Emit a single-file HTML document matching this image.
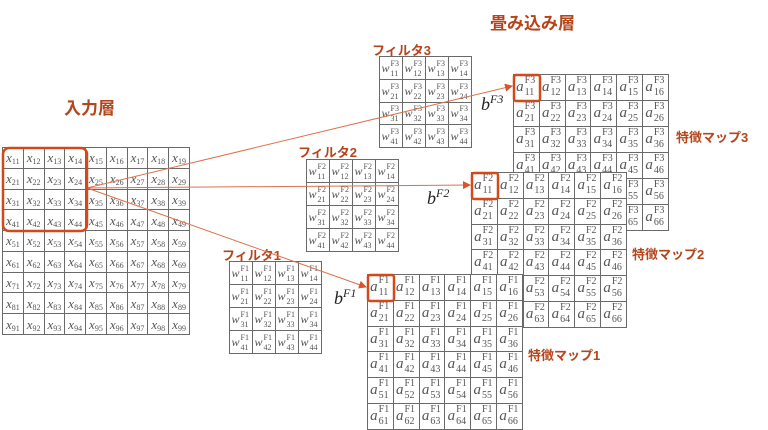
<!DOCTYPE html>
<html><head><meta charset="utf-8"><style>
body{margin:0;width:768px;height:429px;background:#fff;position:relative;overflow:hidden;font-family:"Liberation Serif",serif}
table{position:absolute;border-collapse:collapse;table-layout:fixed;background:#fff}
td{border:1px solid #6a6a6a;text-align:center;vertical-align:middle;padding:0;color:#555;font-style:italic;white-space:nowrap;line-height:1;overflow:hidden}
.x td{font-size:13px;height:19px}
.x sub{font-size:8px;font-style:normal;vertical-align:-2px;line-height:0}
.s{display:inline-block;position:relative;width:11px;height:8px;font-style:normal;vertical-align:0;text-align:left}
.s span{position:absolute;left:1px;font-size:8px;line-height:8px}
.s span:first-child{top:-4px}
.s span:last-child{top:6px}
.w td{font-size:12px;height:21px}
.a td{font-size:15px;height:24px}
.a .s{width:13px;height:10px}
.a .s span{font-size:10px;line-height:10px}
.a .s span:first-child{top:-5px}
.a .s span:last-child{top:7px}
.lab{position:absolute;color:#b5451b;font-family:"Liberation Sans","Noto Sans CJK JP",sans-serif;font-weight:bold;white-space:nowrap}
.b{position:absolute;font-family:"Liberation Serif",serif;font-style:italic;font-size:18px;color:#222}
.b sup{font-size:12px;font-style:italic}
</style></head><body>

<div class="lab" style="left:64px;top:94px;font-size:17px">入力層</div>
<div class="lab" style="left:490px;top:9px;font-size:17px">畳み込み層</div>
<div class="lab" style="left:372px;top:40px;font-size:13px">フィルタ3</div>
<div class="lab" style="left:298px;top:142px;font-size:13px">フィルタ2</div>
<div class="lab" style="left:222px;top:245px;font-size:13px">フィルタ1</div>
<div class="lab" style="left:676px;top:127px;font-size:13px">特徴マップ3</div>
<div class="lab" style="left:632px;top:244px;font-size:13px">特徴マップ2</div>
<div class="lab" style="left:528px;top:345px;font-size:13px">特徴マップ1</div>

<table class="x" style="left:2px;top:147px;width:188px;height:188px">
<tr><td>x<sub>11</sub></td><td>x<sub>12</sub></td><td>x<sub>13</sub></td><td>x<sub>14</sub></td><td>x<sub>15</sub></td><td>x<sub>16</sub></td><td>x<sub>17</sub></td><td>x<sub>18</sub></td><td>x<sub>19</sub></td></tr>
<tr><td>x<sub>21</sub></td><td>x<sub>22</sub></td><td>x<sub>23</sub></td><td>x<sub>24</sub></td><td>x<sub>25</sub></td><td>x<sub>26</sub></td><td>x<sub>27</sub></td><td>x<sub>28</sub></td><td>x<sub>29</sub></td></tr>
<tr><td>x<sub>31</sub></td><td>x<sub>32</sub></td><td>x<sub>33</sub></td><td>x<sub>34</sub></td><td>x<sub>35</sub></td><td>x<sub>36</sub></td><td>x<sub>37</sub></td><td>x<sub>38</sub></td><td>x<sub>39</sub></td></tr>
<tr><td>x<sub>41</sub></td><td>x<sub>42</sub></td><td>x<sub>43</sub></td><td>x<sub>44</sub></td><td>x<sub>45</sub></td><td>x<sub>46</sub></td><td>x<sub>47</sub></td><td>x<sub>48</sub></td><td>x<sub>49</sub></td></tr>
<tr><td>x<sub>51</sub></td><td>x<sub>52</sub></td><td>x<sub>53</sub></td><td>x<sub>54</sub></td><td>x<sub>55</sub></td><td>x<sub>56</sub></td><td>x<sub>57</sub></td><td>x<sub>58</sub></td><td>x<sub>59</sub></td></tr>
<tr><td>x<sub>61</sub></td><td>x<sub>62</sub></td><td>x<sub>63</sub></td><td>x<sub>64</sub></td><td>x<sub>65</sub></td><td>x<sub>66</sub></td><td>x<sub>67</sub></td><td>x<sub>68</sub></td><td>x<sub>69</sub></td></tr>
<tr><td>x<sub>71</sub></td><td>x<sub>72</sub></td><td>x<sub>73</sub></td><td>x<sub>74</sub></td><td>x<sub>75</sub></td><td>x<sub>76</sub></td><td>x<sub>77</sub></td><td>x<sub>78</sub></td><td>x<sub>79</sub></td></tr>
<tr><td>x<sub>81</sub></td><td>x<sub>82</sub></td><td>x<sub>83</sub></td><td>x<sub>84</sub></td><td>x<sub>85</sub></td><td>x<sub>86</sub></td><td>x<sub>87</sub></td><td>x<sub>88</sub></td><td>x<sub>89</sub></td></tr>
<tr><td>x<sub>91</sub></td><td>x<sub>92</sub></td><td>x<sub>93</sub></td><td>x<sub>94</sub></td><td>x<sub>95</sub></td><td>x<sub>96</sub></td><td>x<sub>97</sub></td><td>x<sub>98</sub></td><td>x<sub>99</sub></td></tr>
</table>

<table class="w" style="left:379px;top:56px;width:93px;height:92px">
<tr><td>w<span class="s"><span>F3</span><span>11</span></span></td><td>w<span class="s"><span>F3</span><span>12</span></span></td><td>w<span class="s"><span>F3</span><span>13</span></span></td><td>w<span class="s"><span>F3</span><span>14</span></span></td></tr>
<tr><td>w<span class="s"><span>F3</span><span>21</span></span></td><td>w<span class="s"><span>F3</span><span>22</span></span></td><td>w<span class="s"><span>F3</span><span>23</span></span></td><td>w<span class="s"><span>F3</span><span>24</span></span></td></tr>
<tr><td>w<span class="s"><span>F3</span><span>31</span></span></td><td>w<span class="s"><span>F3</span><span>32</span></span></td><td>w<span class="s"><span>F3</span><span>33</span></span></td><td>w<span class="s"><span>F3</span><span>34</span></span></td></tr>
<tr><td>w<span class="s"><span>F3</span><span>41</span></span></td><td>w<span class="s"><span>F3</span><span>42</span></span></td><td>w<span class="s"><span>F3</span><span>43</span></span></td><td>w<span class="s"><span>F3</span><span>44</span></span></td></tr>
</table>

<table class="w" style="left:306px;top:159px;width:93px;height:93px">
<tr><td>w<span class="s"><span>F2</span><span>11</span></span></td><td>w<span class="s"><span>F2</span><span>12</span></span></td><td>w<span class="s"><span>F2</span><span>13</span></span></td><td>w<span class="s"><span>F2</span><span>14</span></span></td></tr>
<tr><td>w<span class="s"><span>F2</span><span>21</span></span></td><td>w<span class="s"><span>F2</span><span>22</span></span></td><td>w<span class="s"><span>F2</span><span>23</span></span></td><td>w<span class="s"><span>F2</span><span>24</span></span></td></tr>
<tr><td>w<span class="s"><span>F2</span><span>31</span></span></td><td>w<span class="s"><span>F2</span><span>32</span></span></td><td>w<span class="s"><span>F2</span><span>33</span></span></td><td>w<span class="s"><span>F2</span><span>34</span></span></td></tr>
<tr><td>w<span class="s"><span>F2</span><span>41</span></span></td><td>w<span class="s"><span>F2</span><span>42</span></span></td><td>w<span class="s"><span>F2</span><span>43</span></span></td><td>w<span class="s"><span>F2</span><span>44</span></span></td></tr>
</table>

<table class="w" style="left:229px;top:261px;width:93px;height:93px">
<tr><td>w<span class="s"><span>F1</span><span>11</span></span></td><td>w<span class="s"><span>F1</span><span>12</span></span></td><td>w<span class="s"><span>F1</span><span>13</span></span></td><td>w<span class="s"><span>F1</span><span>14</span></span></td></tr>
<tr><td>w<span class="s"><span>F1</span><span>21</span></span></td><td>w<span class="s"><span>F1</span><span>22</span></span></td><td>w<span class="s"><span>F1</span><span>23</span></span></td><td>w<span class="s"><span>F1</span><span>24</span></span></td></tr>
<tr><td>w<span class="s"><span>F1</span><span>31</span></span></td><td>w<span class="s"><span>F1</span><span>32</span></span></td><td>w<span class="s"><span>F1</span><span>33</span></span></td><td>w<span class="s"><span>F1</span><span>34</span></span></td></tr>
<tr><td>w<span class="s"><span>F1</span><span>41</span></span></td><td>w<span class="s"><span>F1</span><span>42</span></span></td><td>w<span class="s"><span>F1</span><span>43</span></span></td><td>w<span class="s"><span>F1</span><span>44</span></span></td></tr>
</table>

<table class="a" style="left:513px;top:74px;width:156px;height:157px">
<tr><td>a<span class="s"><span>F3</span><span>11</span></span></td><td>a<span class="s"><span>F3</span><span>12</span></span></td><td>a<span class="s"><span>F3</span><span>13</span></span></td><td>a<span class="s"><span>F3</span><span>14</span></span></td><td>a<span class="s"><span>F3</span><span>15</span></span></td><td>a<span class="s"><span>F3</span><span>16</span></span></td></tr>
<tr><td>a<span class="s"><span>F3</span><span>21</span></span></td><td>a<span class="s"><span>F3</span><span>22</span></span></td><td>a<span class="s"><span>F3</span><span>23</span></span></td><td>a<span class="s"><span>F3</span><span>24</span></span></td><td>a<span class="s"><span>F3</span><span>25</span></span></td><td>a<span class="s"><span>F3</span><span>26</span></span></td></tr>
<tr><td>a<span class="s"><span>F3</span><span>31</span></span></td><td>a<span class="s"><span>F3</span><span>32</span></span></td><td>a<span class="s"><span>F3</span><span>33</span></span></td><td>a<span class="s"><span>F3</span><span>34</span></span></td><td>a<span class="s"><span>F3</span><span>35</span></span></td><td>a<span class="s"><span>F3</span><span>36</span></span></td></tr>
<tr><td>a<span class="s"><span>F3</span><span>41</span></span></td><td>a<span class="s"><span>F3</span><span>42</span></span></td><td>a<span class="s"><span>F3</span><span>43</span></span></td><td>a<span class="s"><span>F3</span><span>44</span></span></td><td>a<span class="s"><span>F3</span><span>45</span></span></td><td>a<span class="s"><span>F3</span><span>46</span></span></td></tr>
<tr><td>a<span class="s"><span>F3</span><span>51</span></span></td><td>a<span class="s"><span>F3</span><span>52</span></span></td><td>a<span class="s"><span>F3</span><span>53</span></span></td><td>a<span class="s"><span>F3</span><span>54</span></span></td><td>a<span class="s"><span>F3</span><span>55</span></span></td><td>a<span class="s"><span>F3</span><span>56</span></span></td></tr>
<tr><td>a<span class="s"><span>F3</span><span>61</span></span></td><td>a<span class="s"><span>F3</span><span>62</span></span></td><td>a<span class="s"><span>F3</span><span>63</span></span></td><td>a<span class="s"><span>F3</span><span>64</span></span></td><td>a<span class="s"><span>F3</span><span>65</span></span></td><td>a<span class="s"><span>F3</span><span>66</span></span></td></tr>
</table>

<table class="a" style="left:471px;top:172px;width:156px;height:156px">
<tr><td>a<span class="s"><span>F2</span><span>11</span></span></td><td>a<span class="s"><span>F2</span><span>12</span></span></td><td>a<span class="s"><span>F2</span><span>13</span></span></td><td>a<span class="s"><span>F2</span><span>14</span></span></td><td>a<span class="s"><span>F2</span><span>15</span></span></td><td>a<span class="s"><span>F2</span><span>16</span></span></td></tr>
<tr><td>a<span class="s"><span>F2</span><span>21</span></span></td><td>a<span class="s"><span>F2</span><span>22</span></span></td><td>a<span class="s"><span>F2</span><span>23</span></span></td><td>a<span class="s"><span>F2</span><span>24</span></span></td><td>a<span class="s"><span>F2</span><span>25</span></span></td><td>a<span class="s"><span>F2</span><span>26</span></span></td></tr>
<tr><td>a<span class="s"><span>F2</span><span>31</span></span></td><td>a<span class="s"><span>F2</span><span>32</span></span></td><td>a<span class="s"><span>F2</span><span>33</span></span></td><td>a<span class="s"><span>F2</span><span>34</span></span></td><td>a<span class="s"><span>F2</span><span>35</span></span></td><td>a<span class="s"><span>F2</span><span>36</span></span></td></tr>
<tr><td>a<span class="s"><span>F2</span><span>41</span></span></td><td>a<span class="s"><span>F2</span><span>42</span></span></td><td>a<span class="s"><span>F2</span><span>43</span></span></td><td>a<span class="s"><span>F2</span><span>44</span></span></td><td>a<span class="s"><span>F2</span><span>45</span></span></td><td>a<span class="s"><span>F2</span><span>46</span></span></td></tr>
<tr><td>a<span class="s"><span>F2</span><span>51</span></span></td><td>a<span class="s"><span>F2</span><span>52</span></span></td><td>a<span class="s"><span>F2</span><span>53</span></span></td><td>a<span class="s"><span>F2</span><span>54</span></span></td><td>a<span class="s"><span>F2</span><span>55</span></span></td><td>a<span class="s"><span>F2</span><span>56</span></span></td></tr>
<tr><td>a<span class="s"><span>F2</span><span>61</span></span></td><td>a<span class="s"><span>F2</span><span>62</span></span></td><td>a<span class="s"><span>F2</span><span>63</span></span></td><td>a<span class="s"><span>F2</span><span>64</span></span></td><td>a<span class="s"><span>F2</span><span>65</span></span></td><td>a<span class="s"><span>F2</span><span>66</span></span></td></tr>
</table>

<table class="a" style="left:367px;top:274px;width:156px;height:156px">
<tr><td>a<span class="s"><span>F1</span><span>11</span></span></td><td>a<span class="s"><span>F1</span><span>12</span></span></td><td>a<span class="s"><span>F1</span><span>13</span></span></td><td>a<span class="s"><span>F1</span><span>14</span></span></td><td>a<span class="s"><span>F1</span><span>15</span></span></td><td>a<span class="s"><span>F1</span><span>16</span></span></td></tr>
<tr><td>a<span class="s"><span>F1</span><span>21</span></span></td><td>a<span class="s"><span>F1</span><span>22</span></span></td><td>a<span class="s"><span>F1</span><span>23</span></span></td><td>a<span class="s"><span>F1</span><span>24</span></span></td><td>a<span class="s"><span>F1</span><span>25</span></span></td><td>a<span class="s"><span>F1</span><span>26</span></span></td></tr>
<tr><td>a<span class="s"><span>F1</span><span>31</span></span></td><td>a<span class="s"><span>F1</span><span>32</span></span></td><td>a<span class="s"><span>F1</span><span>33</span></span></td><td>a<span class="s"><span>F1</span><span>34</span></span></td><td>a<span class="s"><span>F1</span><span>35</span></span></td><td>a<span class="s"><span>F1</span><span>36</span></span></td></tr>
<tr><td>a<span class="s"><span>F1</span><span>41</span></span></td><td>a<span class="s"><span>F1</span><span>42</span></span></td><td>a<span class="s"><span>F1</span><span>43</span></span></td><td>a<span class="s"><span>F1</span><span>44</span></span></td><td>a<span class="s"><span>F1</span><span>45</span></span></td><td>a<span class="s"><span>F1</span><span>46</span></span></td></tr>
<tr><td>a<span class="s"><span>F1</span><span>51</span></span></td><td>a<span class="s"><span>F1</span><span>52</span></span></td><td>a<span class="s"><span>F1</span><span>53</span></span></td><td>a<span class="s"><span>F1</span><span>54</span></span></td><td>a<span class="s"><span>F1</span><span>55</span></span></td><td>a<span class="s"><span>F1</span><span>56</span></span></td></tr>
<tr><td>a<span class="s"><span>F1</span><span>61</span></span></td><td>a<span class="s"><span>F1</span><span>62</span></span></td><td>a<span class="s"><span>F1</span><span>63</span></span></td><td>a<span class="s"><span>F1</span><span>64</span></span></td><td>a<span class="s"><span>F1</span><span>65</span></span></td><td>a<span class="s"><span>F1</span><span>66</span></span></td></tr>
</table>

<div class="b" style="left:481px;top:92px">b<sup>F3</sup></div>
<div class="b" style="left:427px;top:186px">b<sup>F2</sup></div>
<div class="b" style="left:334px;top:286px">b<sup>F1</sup></div>

<svg width="768" height="429" style="position:absolute;left:0;top:0;pointer-events:none">
<defs><marker id="m" markerWidth="8" markerHeight="8" refX="7" refY="4" orient="auto" markerUnits="userSpaceOnUse"><path d="M0,0 L8,4 L0,8 z" fill="#d9542a"/></marker></defs>
<g stroke="#e0704a" stroke-width="1" fill="none">
<line x1="87" y1="188" x2="512" y2="86" marker-end="url(#m)"/>
<line x1="87" y1="188" x2="470" y2="185" marker-end="url(#m)"/>
<line x1="87" y1="188" x2="366" y2="287" marker-end="url(#m)"/>
</g>
<g stroke="#d24a1c" stroke-width="2.5" fill="none">
<rect x="3" y="148" width="84" height="83" rx="6"/>
<rect x="514" y="75" width="26" height="26" rx="2"/>
<rect x="472" y="173" width="26" height="26" rx="2"/>
<rect x="368" y="275" width="26" height="26" rx="2"/>
</g>
</svg>
</body></html>
